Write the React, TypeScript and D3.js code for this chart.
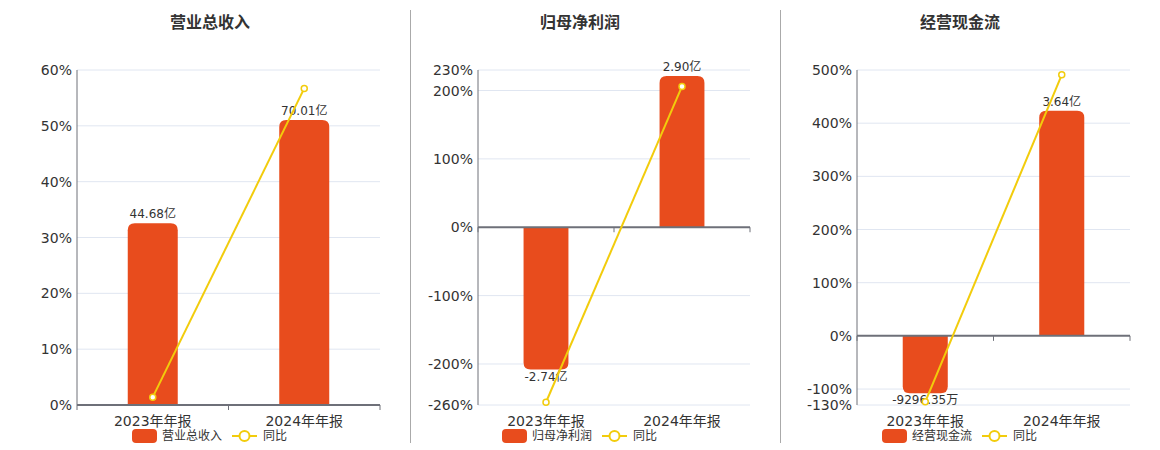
import * as d3 from 'd3';

// categories & series
const categories = ['2023年年报', '2024年年报'];
const titles = ['营业总收入', '归母净利润', '经营现金流'];

const revenueValues = [44.68, 70.01];
const revenueLabels = ['44.68亿', '70.01亿'];
const revenueYoy = [1.4, 56.7];

const profitValues = [-2.74, 2.9];
const profitLabels = ['-2.74亿', '2.90亿'];
const profitYoy = [-256, 206];

const cashValues = [-0.9296, 3.64];
const cashLabels = ['-9296.35万', '3.64亿'];
const cashYoy = [-124, 491];

const revenueTicks = [0, 10, 20, 30, 40, 50, 60];
const profitTicks = [-260, -200, -100, 0, 100, 200, 230];
const cashTicks = [-130, -100, 0, 100, 200, 300, 400, 500];

const BAR_COLOR = '#E84C1D';
const LINE_COLOR = '#F2CC0C';
const GRID = '#E0E6F1';
const AXIS = '#6E7079';
const TEXT = '#333';
const FONT = '"DejaVu Sans", "Noto Sans CJK SC", sans-serif';

interface PanelProps {
  x0: number;
  x1: number;
  cx: number;
  title: string;
  values: number[];
  labels: string[];
  yoy: number[];
  ticks: number[];
  barDomain: [number, number];
}

const TOP = 70;
const BOTTOM = 405;

function barPath(x: number, w: number, y0: number, y1: number, r: number) {
  // rounded on the far end from zero
  const h = Math.abs(y1 - y0);
  const rr = Math.min(r, h, w / 2);
  if (y1 < y0) {
    return `M${x},${y0}V${y1 + rr}Q${x},${y1} ${x + rr},${y1}H${x + w - rr}Q${x + w},${y1} ${x + w},${y1 + rr}V${y0}Z`;
  }
  return `M${x},${y0}V${y1 - rr}Q${x},${y1} ${x + rr},${y1}H${x + w - rr}Q${x + w},${y1} ${x + w},${y1 - rr}V${y0}Z`;
}

function Panel({ x0, x1, cx: centerX, title, values, labels, yoy, ticks, barDomain }: PanelProps) {
  const xBand = d3.scaleBand<string>().domain(categories).range([x0, x1]);
  const yPct = d3.scaleLinear().domain([ticks[0], ticks[ticks.length - 1]]).range([BOTTOM, TOP]);
  const yBar = d3.scaleLinear().domain(barDomain).range([BOTTOM, TOP]);
  const zeroY = yPct(0);
  const bw = xBand.bandwidth() * 0.33;

  const pts: [number, number][] = categories.map((c, i) => [
    (xBand(c) ?? 0) + xBand.bandwidth() / 2,
    yPct(yoy[i]),
  ]);
  const line = d3.line();

  const legendX = centerX - 78;

  return (
    <g fontFamily={FONT}>
      <text x={centerX} y={28} textAnchor="middle" fontSize={16} fontWeight="bold" fill={TEXT}>
        {title}
      </text>
      {ticks.map(t => (
        <g key={t}>
          {t !== 0 && (
            <line x1={x0} x2={x1} y1={yPct(t)} y2={yPct(t)} stroke={GRID} strokeWidth={1} />
          )}
          <text x={x0 - 5} y={yPct(t)} dy="0.36em" textAnchor="end" fontSize={14} fill={TEXT}>
            {t}%
          </text>
        </g>
      ))}
      <line x1={x0} x2={x0} y1={TOP} y2={BOTTOM} stroke={AXIS} strokeWidth={1} />
      {categories.map((c, i) => {
        const cx = (xBand(c) ?? 0) + xBand.bandwidth() / 2;
        const yb = yBar(values[i]);
        const y0 = yBar(0);
        const neg = values[i] < 0;
        return (
          <g key={c}>
            <path d={barPath(cx - bw / 2, bw, y0, yb, 7)} fill={BAR_COLOR} />
            <text
              x={cx}
              y={neg ? yb + 11 : yb - 5}
              textAnchor="middle"
              fontSize={12}
              fill={TEXT}
            >
              {labels[i]}
            </text>
            <text x={cx} y={426} textAnchor="middle" fontSize={14} fill={TEXT}>
              {c}
            </text>
          </g>
        );
      })}
      <line x1={x0} x2={x1} y1={zeroY} y2={zeroY} stroke={AXIS} strokeWidth={2} />
      {[x0, (x0 + x1) / 2, x1].map(tx => (
        <line key={tx} x1={tx} x2={tx} y1={zeroY} y2={zeroY + 5} stroke={AXIS} strokeWidth={1} />
      ))}
      <path d={line(pts) ?? ''} fill="none" stroke={LINE_COLOR} strokeWidth={2} />
      {pts.map(([px, py], i) => (
        <circle key={i} cx={px} cy={py} r={3} fill="#fff" stroke={LINE_COLOR} strokeWidth={1.5} />
      ))}
      {/* legend */}
      <rect x={legendX} y={429} width={25} height={14} rx={4} fill={BAR_COLOR} />
      <text x={legendX + 30} y={436} dy="0.36em" fontSize={12} fill={TEXT}>
        {title}
      </text>
      <line x1={legendX + 100} x2={legendX + 125} y1={436} y2={436} stroke={LINE_COLOR} strokeWidth={2} />
      <circle cx={legendX + 112.5} cy={436} r={5} fill="#fff" stroke={LINE_COLOR} strokeWidth={2} />
      <text x={legendX + 131} y={436} dy="0.36em" fontSize={12} fill={TEXT}>
        同比
      </text>
    </g>
  );
}

export default function App() {
  return (
    <svg width={1160} height={450} style={{ position: 'absolute', left: 0, top: 0, background: '#fff' }}>
      <line x1={410.5} x2={410.5} y1={10} y2={443} stroke="#AAA" strokeWidth={1} />
      <line x1={780.5} x2={780.5} y1={10} y2={443} stroke="#AAA" strokeWidth={1} />
      <Panel x0={77} x1={380} cx={210} title={titles[0]} values={revenueValues} labels={revenueLabels} yoy={revenueYoy} ticks={revenueTicks} barDomain={[0, 82.3]} />
      <Panel x0={478} x1={750} cx={580} title={titles[1]} values={profitValues} labels={profitLabels} yoy={profitYoy} ticks={profitTicks} barDomain={[-3.42, 3.015]} />
      <Panel x0={857} x1={1130} cx={960} title={titles[2]} values={cashValues} labels={cashLabels} yoy={cashYoy} ticks={cashTicks} barDomain={[-1.12, 4.3]} />
    </svg>
  );
}
